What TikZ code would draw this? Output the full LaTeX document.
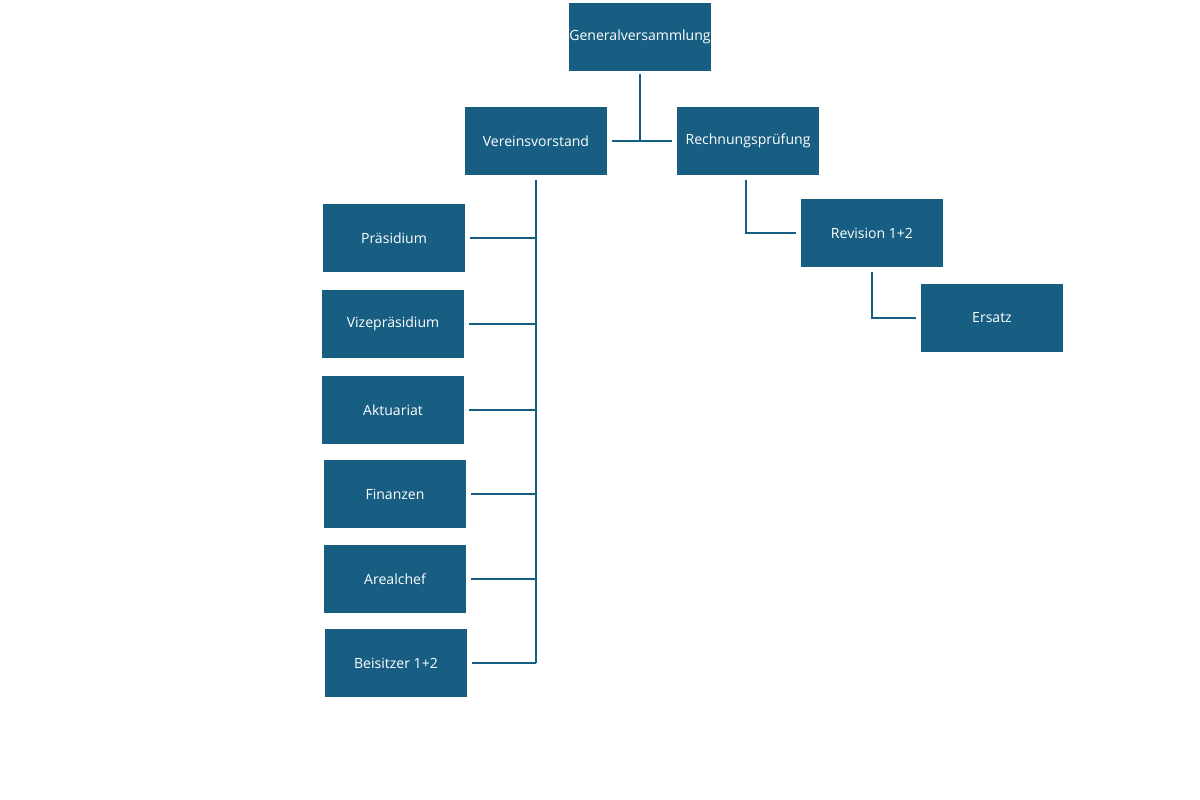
\documentclass[tikz,border=0pt]{standalone}
\usepackage{fontspec}
\setmainfont{Open Sans}
\definecolor{boxblue}{HTML}{175E82}
\tikzset{
  orgbox/.style={fill=boxblue, text=white, minimum width=2.86cm, minimum height=1.38cm, inner sep=0pt, font=\fontsize{8}{10}\selectfont},
  conn/.style={boxblue, line width=1.6pt}
}
\begin{document}
\begin{tikzpicture}[x=0.02cm, y=-0.02cm]
        \useasboundingbox (0,0) rectangle (1200,800);
        % Top level
        \node[orgbox] (gv) at (640,37) {Generalversammlung};
        \node[orgbox] (vv) at (536,141) {Vereinsvorstand};
        \node[orgbox] (rp) at (748,141) {Rechnungsprüfung};
        \node[orgbox] (rev) at (872,233) {Revision 1+2};
        \node[orgbox] (ers) at (992,318) {Ersatz};

        % Vorstand members
        \node[orgbox] (pr) at (394,238) {Präsidium};
        \node[orgbox] (vp) at (393,324) {Vizepräsidium};
        \node[orgbox] (ak) at (393,410) {Aktuariat};
        \node[orgbox] (fi) at (395,494) {Finanzen};
        \node[orgbox] (ar) at (395,579) {Arealchef};
        \node[orgbox] (bs) at (396,663) {Beisitzer 1+2};

        % Connectors top
        \coordinate (mid) at (gv.south |- vv.east);
        \draw[conn] ([yshift=-0.04cm]gv.south) -- (mid);
        \draw[conn] ([xshift=0.08cm]vv.east) -- ([xshift=-0.08cm]rp.west);

        % Vorstand bus
        \draw[conn] ([yshift=-0.08cm]vv.south) -- (vv.south |- bs.east);
        \foreach \m in {pr, vp, ak, fi, ar, bs} {
          \draw[conn] (vv.south |- \m.east) -- ([xshift=0.08cm]\m.east);
        }

        % Revision
        \draw[conn] ([xshift=-0.04cm, yshift=-0.08cm]rp.south) |- ([xshift=-0.08cm]rev.west);
        \draw[conn] ([yshift=-0.08cm]rev.south) |- ([xshift=-0.08cm]ers.west);
      \end{tikzpicture}
\end{document}
